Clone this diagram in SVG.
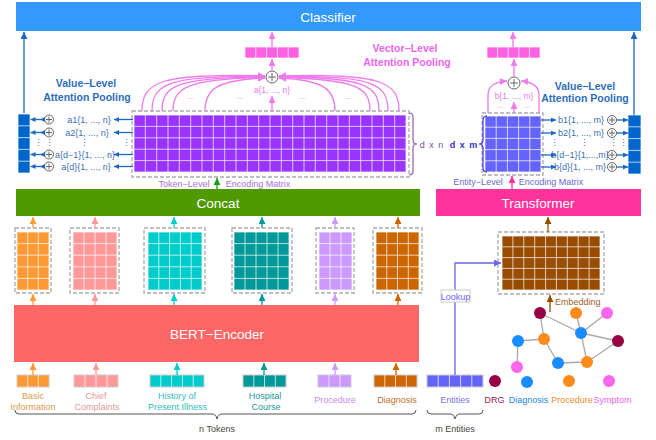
<svg xmlns="http://www.w3.org/2000/svg" width="656" height="440" viewBox="0 0 656 440">
<style>
text{font-family:"Liberation Sans",Arial,sans-serif}
.bar{font-size:13.5px;fill:#fff;text-anchor:middle}
.lbl{font-size:9px;text-anchor:middle}
.vl{font-size:10.5px;font-weight:bold;text-anchor:middle}
.grid{fill:none;stroke:#fff;stroke-opacity:.7;stroke-width:1}
.cell{stroke:#fff;stroke-opacity:.7;stroke-width:1}
.tok{stroke:#ccc;stroke-width:1}
.dash{fill:none;stroke:#aaa;stroke-width:1.3;stroke-dasharray:4 2}
.op circle{fill:#fff;stroke:#666;stroke-width:1}
.op path{stroke:#666;stroke-width:1;fill:none}
.ln{fill:none;stroke-width:1.3}
.bl{fill:#3a6fb5}
.edge{stroke:#aaa;stroke-width:1.3}
</style>
<defs>
<marker id="mb" viewBox="0 0 10 10" refX="10" refY="5" markerWidth="7" markerHeight="7" markerUnits="userSpaceOnUse" orient="auto"><path d="M0,0L10,5L0,10z" fill="#1f66c2"/></marker>
<marker id="mbs" viewBox="0 0 10 10" refX="10" refY="5" markerWidth="5" markerHeight="5" markerUnits="userSpaceOnUse" orient="auto"><path d="M0,0L10,5L0,10z" fill="#1f66c2"/></marker>
<marker id="mp" viewBox="0 0 10 10" refX="10" refY="5" markerWidth="7" markerHeight="7" markerUnits="userSpaceOnUse" orient="auto"><path d="M0,0L10,5L0,10z" fill="#ee7aee"/></marker>
<marker id="mg" viewBox="0 0 10 10" refX="10" refY="5" markerWidth="7" markerHeight="7" markerUnits="userSpaceOnUse" orient="auto"><path d="M0,0L10,5L0,10z" fill="#1a9e1a"/></marker>
<marker id="mt" viewBox="0 0 10 10" refX="10" refY="5" markerWidth="7" markerHeight="7" markerUnits="userSpaceOnUse" orient="auto"><path d="M0,0L10,5L0,10z" fill="#ff3399"/></marker>
<marker id="mbr" viewBox="0 0 10 10" refX="10" refY="5" markerWidth="7" markerHeight="7" markerUnits="userSpaceOnUse" orient="auto"><path d="M0,0L10,5L0,10z" fill="#994c00"/></marker>
<marker id="mo" viewBox="0 0 10 10" refX="10" refY="5" markerWidth="7" markerHeight="7" markerUnits="userSpaceOnUse" orient="auto"><path d="M0,0L10,5L0,10z" fill="#ff9933"/></marker>
<marker id="ms" viewBox="0 0 10 10" refX="10" refY="5" markerWidth="7" markerHeight="7" markerUnits="userSpaceOnUse" orient="auto"><path d="M0,0L10,5L0,10z" fill="#ff9999"/></marker>
<marker id="mc" viewBox="0 0 10 10" refX="10" refY="5" markerWidth="7" markerHeight="7" markerUnits="userSpaceOnUse" orient="auto"><path d="M0,0L10,5L0,10z" fill="#00cccc"/></marker>
<marker id="mtl" viewBox="0 0 10 10" refX="10" refY="5" markerWidth="7" markerHeight="7" markerUnits="userSpaceOnUse" orient="auto"><path d="M0,0L10,5L0,10z" fill="#009999"/></marker>
<marker id="ml" viewBox="0 0 10 10" refX="10" refY="5" markerWidth="7" markerHeight="7" markerUnits="userSpaceOnUse" orient="auto"><path d="M0,0L10,5L0,10z" fill="#cc99ff"/></marker>
<marker id="mr" viewBox="0 0 10 10" refX="10" refY="5" markerWidth="7" markerHeight="7" markerUnits="userSpaceOnUse" orient="auto"><path d="M0,0L10,5L0,10z" fill="#cc6600"/></marker>
<marker id="mpe" viewBox="0 0 10 10" refX="10" refY="5" markerWidth="7" markerHeight="7" markerUnits="userSpaceOnUse" orient="auto"><path d="M0,0L10,5L0,10z" fill="#6666ee"/></marker>
</defs>
<rect width="656" height="440" fill="#fff"/>

<g id="classifier"><rect x="16" y="2" width="625" height="29" fill="#3399ff"/><text class="bar" x="328" y="21.5">Classifier</text></g>
<g id="concat"><rect x="16" y="189" width="404" height="27" fill="#4f9a00"/><text class="bar" x="218" y="207.5">Concat</text></g>
<g id="transformer"><rect x="436" y="189" width="205" height="27" fill="#ff3399"/><text class="bar" x="538" y="207.5">Transformer</text></g>
<g id="bert"><rect x="14" y="305" width="405" height="57" fill="#ff6666"/><text class="bar" x="217" y="339">BERT−Encoder</text></g>

<g id="token-matrix">
<rect class="dash" x="132" y="111" width="277" height="66"/>
<rect x="134" y="115" width="272" height="57" fill="#9933ff" class="cell"/>
<path class="grid" d="M145.3,115V172M156.7,115V172M168,115V172M179.3,115V172M190.7,115V172M202,115V172M213.3,115V172M224.7,115V172M236,115V172M247.3,115V172M258.7,115V172M270,115V172M281.3,115V172M292.7,115V172M304,115V172M315.3,115V172M326.7,115V172M338,115V172M349.3,115V172M360.7,115V172M372,115V172M383.3,115V172M394.7,115V172M134,126.4H406M134,137.8H406M134,149.2H406M134,160.6H406"/>
<path d="M409,113Q413,113 413,117V140Q413,144 417,144Q413,144 413,148V171Q413,175 409,175" fill="none" stroke="#8e5ea2" stroke-width="1.2"/>
<text x="432" y="147.5" font-size="9" fill="#7c4e9a" text-anchor="middle" letter-spacing="1">d x n</text>
<text x="184" y="187" font-size="9" fill="#a070e0" text-anchor="middle">Token−Level</text>
<text x="258" y="187" font-size="9" fill="#a070e0" text-anchor="middle">Encoding Matrix</text>
</g>

<g id="entity-matrix">
<rect class="dash" x="482" y="113" width="61" height="62"/>
<rect x="485" y="116" width="56" height="56" fill="#6464fa" class="cell"/>
<path class="grid" d="M496.2,116V172M507.4,116V172M518.6,116V172M529.8,116V172M485,127.2H541M485,138.4H541M485,149.6H541M485,160.8H541"/>
<path d="M487,116Q483,116 483,120V140Q483,144 479,144Q483,144 483,148V168Q483,172 487,172" fill="none" stroke="#3333dd" stroke-width="1.2"/>
<text x="464" y="147.5" font-size="9" font-weight="bold" fill="#3333cc" text-anchor="middle" letter-spacing="1">d x m</text>
<text x="478" y="185" font-size="9" fill="#6a6acc" text-anchor="middle">Entity−Level</text>
<text x="551" y="185" font-size="9" fill="#6a6acc" text-anchor="middle">Encoding Matrix</text>
</g>

<g id="vector-pool-left">
<rect x="245" y="47" width="54" height="11" fill="#ff5fe3" class="cell"/>
<path class="grid" d="M255.8,47V58M266.6,47V58M277.4,47V58M288.2,47V58"/>
<g class="op"><circle cx="272" cy="77" r="6"/><path d="M268,77H276M272,73V81"/></g>
<text x="272" y="93" font-size="8.5" fill="#ee7aee" text-anchor="middle">a{1, ..., n}</text>
<text x="190" y="99" font-size="8" fill="#ee7aee" text-anchor="middle">...</text>
<text x="240" y="99" font-size="8" fill="#ee7aee" text-anchor="middle">...</text>
<text x="302" y="99" font-size="8" fill="#ee7aee" text-anchor="middle">...</text>
<text x="348" y="99" font-size="8" fill="#ee7aee" text-anchor="middle">...</text>
<text class="vl" x="405" y="52" fill="#ee66ee">Vector−Level</text>
<text class="vl" x="407" y="66" fill="#ee66ee">Attention Pooling</text>
</g>

<g id="vector-pool-right">
<rect x="487" y="47" width="53" height="11" fill="#ff5fe3" class="cell"/>
<path class="grid" d="M497.6,47V58M508.2,47V58M518.8,47V58M529.4,47V58"/>
<g class="op"><circle cx="514" cy="83" r="6"/><path d="M510,83H518M514,79V87"/></g>
<text x="514" y="99" font-size="8.5" fill="#ee7aee" text-anchor="middle">b{1, ..., m}</text>
<text x="500" y="108" font-size="8" fill="#ee7aee" text-anchor="middle">...</text>
<text x="527" y="108" font-size="8" fill="#ee7aee" text-anchor="middle">...</text>
</g>

<g id="value-pool-left">
<rect x="18" y="114" width="12" height="59" fill="#0066cc" class="cell"/>
<path class="grid" d="M18,125.8H30M18,137.6H30M18,149.4H30M18,161.2H30"/>
<g class="op"><circle cx="49" cy="119.5" r="4.5"/><path d="M46,119.5H52M49,116.5V122.5"/></g>
<g class="op"><circle cx="49" cy="132.5" r="4.5"/><path d="M46,132.5H52M49,129.5V135.5"/></g>
<g class="op"><circle cx="49" cy="154.5" r="4.5"/><path d="M46,154.5H52M49,151.5V157.5"/></g>
<g class="op"><circle cx="49" cy="166.5" r="4.5"/><path d="M46,166.5H52M49,163.5V169.5"/></g>
<text class="lbl bl" x="89" y="122.5">a1{1, ..., n}</text>
<text class="lbl bl" x="87" y="135.5">a2{1, ..., n}</text>
<text class="lbl bl" x="85" y="157.5">a{d−1}{1, ..., n}</text>
<text class="lbl bl" x="86" y="169.5">a{d}{1, ..., n}</text>
<text class="lbl bl" x="38" y="146">⋮</text>
<text class="lbl bl" x="49" y="146">⋮</text>
<text class="lbl bl" x="84" y="146">⋮</text>
<text class="lbl bl" x="126" y="146">⋮</text>
<text class="vl" x="86" y="87" fill="#2f6eba">Value−Level</text>
<text class="vl" x="87" y="101" fill="#2f6eba">Attention Pooling</text>
</g>

<g id="value-pool-right">
<rect x="628" y="115" width="13" height="59" fill="#0066cc" class="cell"/>
<path class="grid" d="M628,126.8H641M628,138.6H641M628,150.4H641M628,162.2H641"/>
<g class="op"><circle cx="612" cy="120" r="4.5"/><path d="M609,120H615M612,117V123"/></g>
<g class="op"><circle cx="612" cy="133" r="4.5"/><path d="M609,133H615M612,130V136"/></g>
<g class="op"><circle cx="612" cy="155" r="4.5"/><path d="M609,155H615M612,152V158"/></g>
<g class="op"><circle cx="612" cy="167" r="4.5"/><path d="M609,167H615M612,164V170"/></g>
<text class="lbl bl" x="581" y="123">b1{1, ..., m}</text>
<text class="lbl bl" x="581" y="136">b2{1, ..., m}</text>
<text class="lbl bl" x="580" y="158">b{d−1}{1,...,m}</text>
<text class="lbl bl" x="580" y="170">b{d}{1, ..., m}</text>
<text class="lbl bl" x="554" y="146">⋮</text>
<text class="lbl bl" x="584" y="146">⋮</text>
<text class="lbl bl" x="613" y="146">⋮</text>
<text class="lbl bl" x="623" y="146">⋮</text>
<text class="vl" x="585" y="90" fill="#2f6eba">Value−Level</text>
<text class="vl" x="585" y="102" fill="#2f6eba">Attention Pooling</text>
</g>

<g id="mid-basic"><rect class="dash" x="15" y="228" width="36" height="65"/><rect x="17" y="232" width="32" height="58" fill="#ff9933" class="cell"/><path class="grid" d="M27.7,232V290M38.3,232V290M17,243.6H49M17,255.2H49M17,266.8H49M17,278.4H49"/></g>
<g id="mid-chief"><rect class="dash" x="70" y="228" width="49" height="65"/><rect x="73" y="232" width="44" height="58" fill="#ff9999" class="cell"/><path class="grid" d="M84,232V290M95,232V290M106,232V290M73,243.6H117M73,255.2H117M73,266.8H117M73,278.4H117"/></g>
<g id="mid-history"><rect class="dash" x="144" y="228" width="61" height="65"/><rect x="148" y="232" width="54" height="58" fill="#00cccc" class="cell"/><path class="grid" d="M158.8,232V290M169.6,232V290M180.4,232V290M191.2,232V290M148,243.6H202M148,255.2H202M148,266.8H202M148,278.4H202"/></g>
<g id="mid-hospital"><rect class="dash" x="232" y="228" width="60" height="65"/><rect x="234" y="232" width="55" height="58" fill="#009999" class="cell"/><path class="grid" d="M245,232V290M256,232V290M267,232V290M278,232V290M234,243.6H289M234,255.2H289M234,266.8H289M234,278.4H289"/></g>
<g id="mid-procedure"><rect class="dash" x="316" y="228" width="38" height="65"/><rect x="319" y="232" width="33" height="58" fill="#cc99ff" class="cell"/><path class="grid" d="M330,232V290M341,232V290M319,243.6H352M319,255.2H352M319,266.8H352M319,278.4H352"/></g>
<g id="mid-diagnosis"><rect class="dash" x="373" y="228" width="49" height="65"/><rect x="376" y="232" width="43" height="58" fill="#cc6600" class="cell"/><path class="grid" d="M386.8,232V290M397.5,232V290M408.3,232V290M376,243.6H419M376,255.2H419M376,266.8H419M376,278.4H419"/></g>

<g id="entity-embedding"><rect class="dash" x="498" y="232" width="106" height="62"/><rect x="502" y="236" width="98" height="54" fill="#994c00" class="cell"/><path class="grid" d="M512.9,236V290M523.8,236V290M534.7,236V290M545.6,236V290M556.4,236V290M567.3,236V290M578.2,236V290M589.1,236V290M502,246.8H600M502,257.6H600M502,268.4H600M502,279.2H600"/>
<text x="555" y="305" font-size="9" fill="#a0622d">Embedding</text></g>

<g id="tok-basic"><rect x="17" y="375" width="32" height="12" fill="#ff9933" class="tok"/><path class="grid" d="M27.7,375V387M38.3,375V387"/><text class="lbl" x="33" y="398.5" fill="#e09a4a">Basic</text><text class="lbl" x="33" y="409.5" fill="#e09a4a">Information</text></g>
<g id="tok-chief"><rect x="74" y="375" width="44" height="12" fill="#ff9999" class="tok"/><path class="grid" d="M85,375V387M96,375V387M107,375V387"/><text class="lbl" x="96" y="398.5" fill="#e39a9a">Chief</text><text class="lbl" x="97" y="409.5" fill="#e39a9a">Complaints</text></g>
<g id="tok-history"><rect x="150" y="375" width="54" height="12" fill="#00cccc" class="tok"/><path class="grid" d="M160.8,375V387M171.6,375V387M182.4,375V387M193.2,375V387"/><text class="lbl" x="177" y="398.5" fill="#33bbbb">History of</text><text class="lbl" x="177.5" y="409.5" fill="#33bbbb">Present Illness</text></g>
<g id="tok-hospital"><rect x="243" y="375" width="43" height="12" fill="#009999" class="tok"/><path class="grid" d="M253.8,375V387M264.5,375V387M275.3,375V387"/><text class="lbl" x="265" y="398.5" fill="#229999">Hospital</text><text class="lbl" x="266" y="409.5" fill="#229999">Course</text></g>
<g id="tok-procedure"><rect x="318" y="375" width="33" height="12" fill="#cc99ff" class="tok"/><path class="grid" d="M329,375V387M340,375V387"/><text class="lbl" x="335" y="403" fill="#c58cf0">Procedure</text></g>
<g id="tok-diagnosis"><rect x="374" y="375" width="43" height="12" fill="#cc6600" class="tok"/><path class="grid" d="M384.8,375V387M395.5,375V387M406.3,375V387"/><text class="lbl" x="397" y="403" fill="#c0702a">Diagnosis</text></g>
<g id="tok-entities"><rect x="427" y="375" width="56" height="12" fill="#6464fa" class="tok"/><path class="grid" d="M438.2,375V387M449.4,375V387M460.6,375V387M471.8,375V387"/><text class="lbl" x="455" y="403" fill="#7777dd">Entities</text></g>

<g id="n-tokens"><path d="M15,410Q15,414 19,414H212Q216,414 217,419Q218,414 222,414H412Q416,414 416,410" fill="none" stroke="#555" stroke-width="1"/><text class="lbl" x="217" y="432" fill="#444">n Tokens</text></g>
<g id="m-entities"><path d="M427,410Q427,414 431,414H451Q454,414 455,419Q456,414 459,414H479Q483,414 483,410" fill="none" stroke="#555" stroke-width="1"/><text class="lbl" x="455" y="432" fill="#444">m Entities</text></g>

<g id="graph">
<path class="edge" d="M540,313L544,339M540,313L581,333M581,333L607,313M581,333L576,313M581,333L618,341M581,333L587,362M587,362L618,341M587,362L558,363M558,363L544,339M544,339L518,341M518,341L517,367"/>
<circle cx="540" cy="313" r="6" fill="#990044"/>
<circle cx="576" cy="313" r="6" fill="#ff8c1a"/>
<circle cx="607" cy="313" r="6" fill="#ff66ee"/>
<circle cx="581" cy="333" r="6" fill="#1a8cff"/>
<circle cx="618" cy="341" r="6" fill="#990044"/>
<circle cx="518" cy="341" r="6" fill="#1a8cff"/>
<circle cx="544" cy="339" r="6" fill="#ff8c1a"/>
<circle cx="517" cy="367" r="6" fill="#ff66ee"/>
<circle cx="558" cy="363" r="6" fill="#1a8cff"/>
<circle cx="587" cy="362" r="6" fill="#ff8c1a"/>
</g>
<g id="legend">
<circle cx="495" cy="381" r="6" fill="#990044"/><text class="lbl" x="494.5" y="403" fill="#a0205a">DRG</text>
<circle cx="527" cy="382" r="6" fill="#1a8cff"/><text class="lbl" x="528.5" y="403" fill="#2288ee">Diagnosis</text>
<circle cx="569" cy="381" r="6" fill="#ff8c1a"/><text class="lbl" x="572" y="403" fill="#f08c2a">Procedure</text>
<circle cx="609" cy="381" r="6" fill="#ff66ee"/><text class="lbl" x="612.5" y="403" fill="#ee66ee">Symptom</text>
</g>

<g id="connectors">
<path class="ln" stroke="#1f66c2" d="M24,113V32" marker-end="url(#mb)"/>
<path class="ln" stroke="#1f66c2" d="M634,115V32" marker-end="url(#mb)"/>
<path class="ln" stroke="#1f66c2" d="M44.5,119.5L40,119.5L30.5,119.5" marker-mid="url(#mbs)" marker-end="url(#mbs)"/>
<path class="ln" stroke="#1f66c2" d="M44.5,132.5L40,132.5L30.5,132.5" marker-mid="url(#mbs)" marker-end="url(#mbs)"/>
<path class="ln" stroke="#1f66c2" d="M44.5,154.5L40,154.5L30.5,154.5" marker-mid="url(#mbs)" marker-end="url(#mbs)"/>
<path class="ln" stroke="#1f66c2" d="M44.5,166.5L40,166.5L30.5,166.5" marker-mid="url(#mbs)" marker-end="url(#mbs)"/>
<path class="ln" stroke="#1f66c2" d="M133,119.5H114" marker-end="url(#mbs)"/>
<path class="ln" stroke="#1f66c2" d="M133,132.5H114" marker-end="url(#mbs)"/>
<path class="ln" stroke="#1f66c2" d="M133,154.5H114" marker-end="url(#mbs)"/>
<path class="ln" stroke="#1f66c2" d="M133,166.5H114" marker-end="url(#mbs)"/>
<path class="ln" stroke="#1f66c2" d="M541,120H556" marker-end="url(#mbs)"/>
<path class="ln" stroke="#1f66c2" d="M541,133H556" marker-end="url(#mbs)"/>
<path class="ln" stroke="#1f66c2" d="M541,155H556" marker-end="url(#mbs)"/>
<path class="ln" stroke="#1f66c2" d="M541,167H556" marker-end="url(#mbs)"/>
<path class="ln" stroke="#1f66c2" d="M616.5,120H628" marker-end="url(#mbs)"/>
<path class="ln" stroke="#1f66c2" d="M616.5,133H628" marker-end="url(#mbs)"/>
<path class="ln" stroke="#1f66c2" d="M616.5,155H628" marker-end="url(#mbs)"/>
<path class="ln" stroke="#1f66c2" d="M616.5,167H628" marker-end="url(#mbs)"/>

<path class="ln" stroke="#ee7aee" d="M142,111C142,82 160,73 265,76" marker-end="url(#mp)"/>
<path class="ln" stroke="#ee7aee" d="M152,111C152,84 168,75 265,76.5" marker-end="url(#mp)"/>
<path class="ln" stroke="#ee7aee" d="M162,111C162,86 176,77 265,77" marker-end="url(#mp)"/>
<path class="ln" stroke="#ee7aee" d="M173,111C173,88 186,79 265,77.5" marker-end="url(#mp)"/>
<path class="ln" stroke="#ee7aee" d="M205,111C205,90 215,80 265,78" marker-end="url(#mp)"/>
<path class="ln" stroke="#ee7aee" d="M399,111C399,82 382,73 279,76" marker-end="url(#mp)"/>
<path class="ln" stroke="#ee7aee" d="M388,111C388,84 374,75 279,76.5" marker-end="url(#mp)"/>
<path class="ln" stroke="#ee7aee" d="M379,111C379,86 366,77 279,77" marker-end="url(#mp)"/>
<path class="ln" stroke="#ee7aee" d="M370,111C370,88 358,79 279,77.5" marker-end="url(#mp)"/>
<path class="ln" stroke="#ee7aee" d="M335,111C335,90 325,80 279,78" marker-end="url(#mp)"/>
<path class="ln" stroke="#ee7aee" d="M272,111V96" marker-end="url(#mp)"/>
<path class="ln" stroke="#ee7aee" d="M272,71V59" marker-end="url(#mp)"/>
<path class="ln" stroke="#ee7aee" d="M272,47V32" marker-end="url(#mp)"/>
<path class="ln" stroke="#ee7aee" d="M488,113V95C488,86 494,82 507,81" marker-end="url(#mp)"/>
<path class="ln" stroke="#ee7aee" d="M539,113V95C539,86 533,82 521,81" marker-end="url(#mp)"/>
<path class="ln" stroke="#ee7aee" d="M514,113V102" marker-end="url(#mp)"/>
<path class="ln" stroke="#ee7aee" d="M514,77V59" marker-end="url(#mp)"/>
<path class="ln" stroke="#ee7aee" d="M513,47V32" marker-end="url(#mp)"/>

<path class="ln" stroke="#1a9e1a" d="M217,189V178" marker-end="url(#mg)"/>
<path class="ln" stroke="#ff3399" d="M512,189V176" marker-end="url(#mt)"/>
<path class="ln" stroke="#994c00" d="M548,232V217" marker-end="url(#mbr)"/>
<path class="ln" stroke="#994c00" d="M550,312V295" marker-end="url(#mbr)"/>
<path class="ln" stroke="#6666ee" d="M455,375V263H501" marker-end="url(#mpe)"/>

<path class="ln" stroke="#ff9933" d="M33,228V217" marker-end="url(#mo)"/>
<path class="ln" stroke="#ff9999" d="M95,228V217" marker-end="url(#ms)"/>
<path class="ln" stroke="#00cccc" d="M174,228V217" marker-end="url(#mc)"/>
<path class="ln" stroke="#009999" d="M262,228V217" marker-end="url(#mtl)"/>
<path class="ln" stroke="#cc99ff" d="M335,228V217" marker-end="url(#ml)"/>
<path class="ln" stroke="#cc6600" d="M398,228V217" marker-end="url(#mr)"/>
<path class="ln" stroke="#ff9933" d="M33,305V294" marker-end="url(#mo)"/>
<path class="ln" stroke="#ff9999" d="M95,305V294" marker-end="url(#ms)"/>
<path class="ln" stroke="#00cccc" d="M174,305V294" marker-end="url(#mc)"/>
<path class="ln" stroke="#009999" d="M262,305V294" marker-end="url(#mtl)"/>
<path class="ln" stroke="#cc99ff" d="M335,305V294" marker-end="url(#ml)"/>
<path class="ln" stroke="#cc6600" d="M398,305V294" marker-end="url(#mr)"/>
<path class="ln" stroke="#ff9933" d="M33,375V363" marker-end="url(#mo)"/>
<path class="ln" stroke="#ff9999" d="M96,375V363" marker-end="url(#ms)"/>
<path class="ln" stroke="#00cccc" d="M177,375V363" marker-end="url(#mc)"/>
<path class="ln" stroke="#009999" d="M264,375V363" marker-end="url(#mtl)"/>
<path class="ln" stroke="#cc99ff" d="M335,375V363" marker-end="url(#ml)"/>
<path class="ln" stroke="#cc6600" d="M396,375V363" marker-end="url(#mr)"/>
</g>
<g id="lookup"><rect x="441" y="290" width="29" height="12" fill="#fff" stroke="#ccc" stroke-width="1"/><text class="lbl" x="455.5" y="299.5" fill="#6666ff">Lookup</text></g>
</svg>
